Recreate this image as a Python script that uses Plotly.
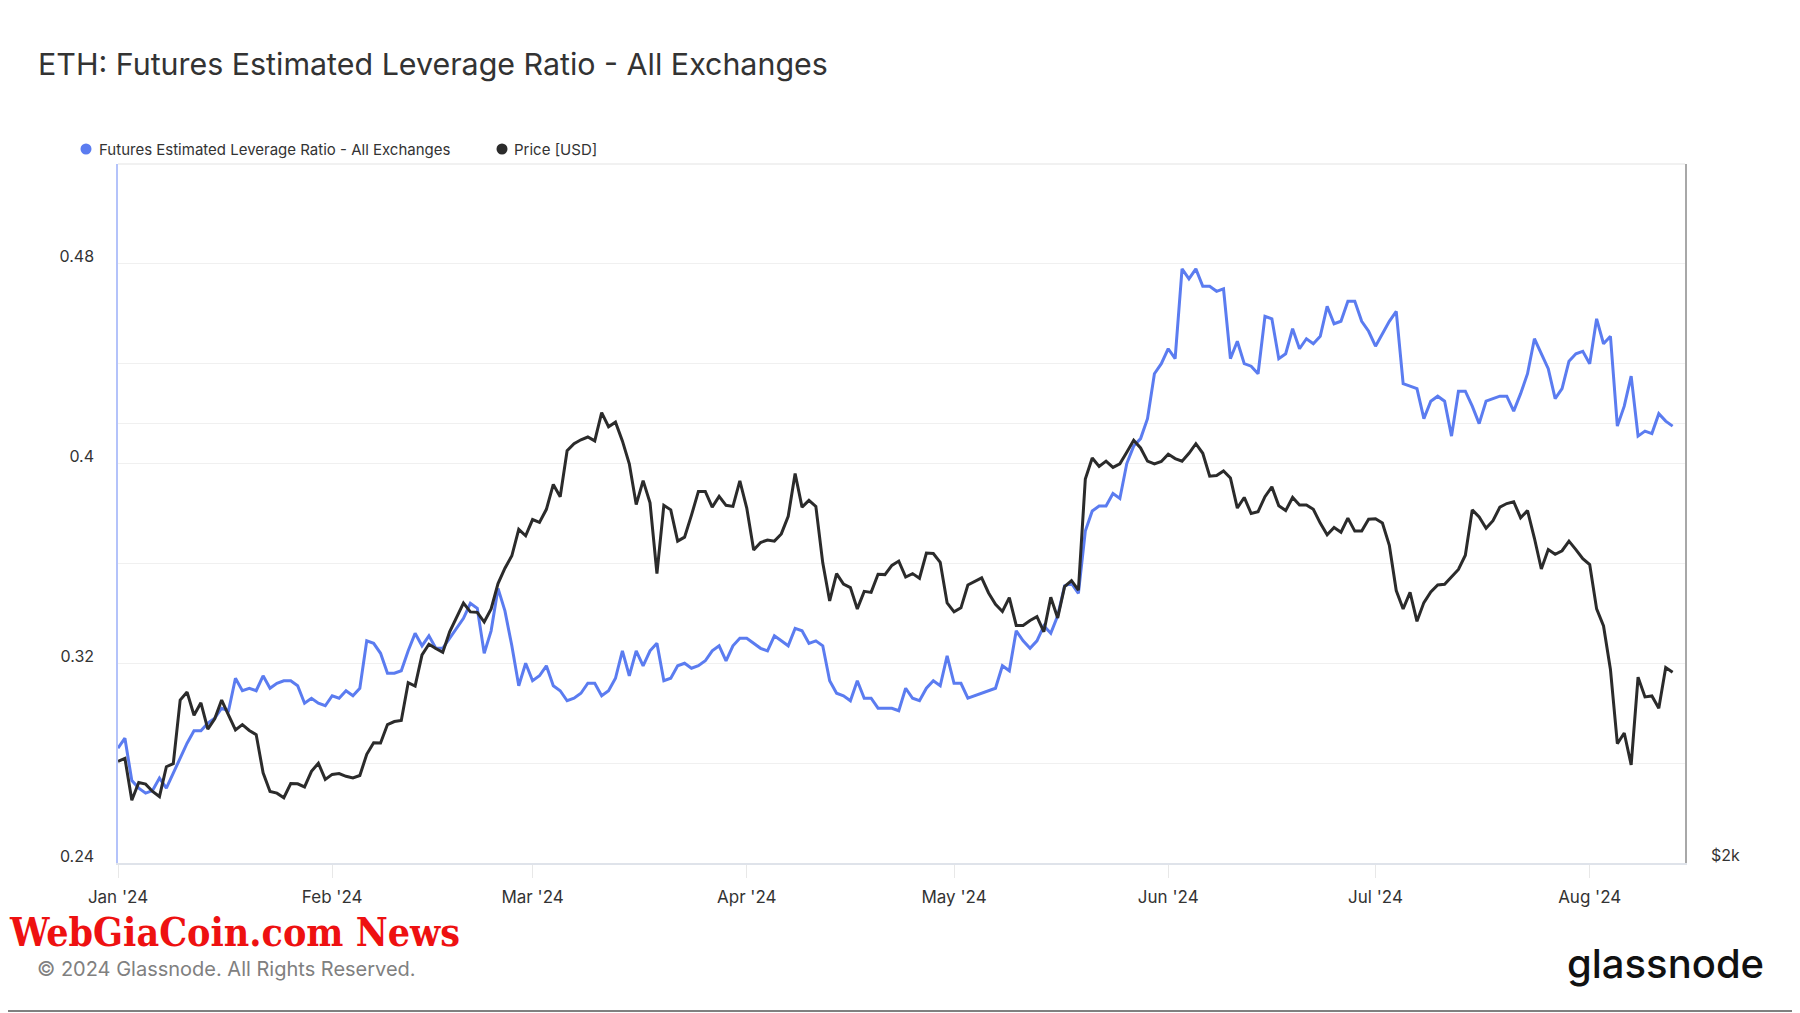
import math

import pandas as pd
import plotly.graph_objects as go

# --- data: one value per day, 2024-01-01 .. 2024-08-13 ---
START_DATE = "2024-01-01"

leverage_ratio = [
    0.286, 0.290, 0.273, 0.270, 0.268, 0.269, 0.274, 0.270, 0.276, 0.282,
    0.288, 0.293, 0.293, 0.296, 0.298, 0.302, 0.301, 0.314, 0.309, 0.310,
    0.309, 0.315, 0.310, 0.312, 0.313, 0.313, 0.311, 0.304, 0.306, 0.304,
    0.303, 0.307, 0.306, 0.309, 0.307, 0.310, 0.329, 0.328, 0.324, 0.316,
    0.316, 0.317, 0.325, 0.332, 0.327, 0.331, 0.326, 0.326, 0.330, 0.334,
    0.338, 0.344, 0.342, 0.324, 0.333, 0.350, 0.341, 0.327, 0.311, 0.320,
    0.313, 0.315, 0.319, 0.311, 0.309, 0.305, 0.306, 0.308, 0.312, 0.312,
    0.307, 0.309, 0.314, 0.325, 0.315, 0.325, 0.319, 0.325, 0.328, 0.313,
    0.314, 0.319, 0.320, 0.318, 0.319, 0.321, 0.325, 0.327, 0.321, 0.327,
    0.330, 0.330, 0.328, 0.326, 0.325, 0.331, 0.329, 0.327, 0.334, 0.333,
    0.328, 0.329, 0.327, 0.313, 0.308, 0.307, 0.305, 0.313, 0.306, 0.306,
    0.302, 0.302, 0.302, 0.301, 0.310, 0.306, 0.305, 0.310, 0.313, 0.311,
    0.323, 0.312, 0.312, 0.306, 0.307, 0.308, 0.309, 0.310, 0.319, 0.317,
    0.333, 0.329, 0.326, 0.329, 0.335, 0.332, 0.339, 0.351, 0.352, 0.348,
    0.373, 0.381, 0.383, 0.383, 0.388, 0.386, 0.400, 0.407, 0.410, 0.418,
    0.436, 0.440, 0.446, 0.442, 0.478, 0.474, 0.478, 0.471, 0.471, 0.469,
    0.470, 0.442, 0.449, 0.440, 0.439, 0.436, 0.459, 0.458, 0.442, 0.444,
    0.454, 0.446, 0.450, 0.448, 0.451, 0.463, 0.456, 0.457, 0.465, 0.465,
    0.457, 0.453, 0.447, 0.452, 0.457, 0.461, 0.432, 0.431, 0.430, 0.418,
    0.425, 0.427, 0.425, 0.411, 0.429, 0.429, 0.423, 0.416, 0.425, 0.426,
    0.427, 0.427, 0.421, 0.428, 0.436, 0.450, 0.444, 0.438, 0.426, 0.430,
    0.441, 0.444, 0.445, 0.440, 0.458, 0.448, 0.451, 0.415, 0.423, 0.435,
    0.411, 0.413, 0.412, 0.420, 0.417, 0.415,
]

price_usd = [
    2348, 2359, 2208, 2271, 2265, 2239, 2221, 2328, 2339, 2586,
    2619, 2525, 2575, 2470, 2511, 2586, 2525, 2467, 2488, 2465,
    2449, 2306, 2239, 2233, 2217, 2267, 2266, 2255, 2311, 2341,
    2282, 2300, 2303, 2293, 2287, 2296, 2374, 2418, 2417, 2488,
    2500, 2504, 2658, 2644, 2777, 2824, 2805, 2788, 2880, 2944,
    3014, 2972, 2970, 2925, 2986, 3108, 3184, 3247, 3385, 3351,
    3438, 3423, 3494, 3634, 3564, 3832, 3875, 3899, 3916, 3892,
    4070, 3980, 4009, 3892, 3754, 3520, 3656, 3530, 3157, 3516,
    3491, 3323, 3344, 3462, 3594, 3594, 3506, 3566, 3516, 3510,
    3654, 3501, 3277, 3316, 3329, 3323, 3361, 3456, 3697, 3506,
    3544, 3510, 3211, 3024, 3157, 3105, 3088, 2986, 3070, 3065,
    3154, 3152, 3198, 3220, 3140, 3157, 3134, 3261, 3259, 3214,
    3014, 2972, 2991, 3101, 3117, 3136, 3062, 3008, 2974, 3040,
    2909, 2909, 2932, 2950, 2880, 3041, 2944, 3093, 3122, 3076,
    3665, 3789, 3739, 3770, 3733, 3754, 3823, 3896, 3849, 3770,
    3754, 3768, 3812, 3785, 3770, 3817, 3875, 3817, 3681, 3685,
    3712, 3671, 3501, 3560, 3471, 3481, 3564, 3620, 3514, 3487,
    3560, 3518, 3518, 3494, 3419, 3357, 3395, 3370, 3446, 3376,
    3376, 3440, 3442, 3419, 3301, 3074, 2986, 3065, 2928, 3016,
    3067, 3101, 3104, 3139, 3178, 3250, 3491, 3452, 3391, 3432,
    3506, 3526, 3536, 3448, 3487, 3338, 3180, 3279, 3255, 3273,
    3323, 3279, 3232, 3202, 2986, 2907, 2714, 2414, 2455, 2335,
    2681, 2599, 2603, 2553, 2722, 2702,
]

ratio_ticks = [0.24, 0.28, 0.32, 0.36, 0.40, 0.44, 0.48]
ratio_tick_text = ["0.24", "", "0.32", "", "0.4", "", "0.48"]
price_ticks = [2000, 4000]
price_tick_text = ["$2k", ""]

dates = pd.date_range(START_DATE, periods=len(leverage_ratio), freq="D")

# --- page geometry (the page body adds an 8px offset, so positions are in page px minus 8) ---
W, H = 1800, 1013
OFF = 8
M = dict(l=118 - OFF, r=W - (1685 - OFF), t=164 - OFF, b=H - (863 - OFF))
PW = W - M["l"] - M["r"]
PH = H - M["t"] - M["b"]


def px_x(x):
    return (x - OFF - M["l"]) / PW


def px_y(y):
    return (H - M["b"] - (y - OFF)) / PH


BLUE = "#5b7cf0"
DARK = "#2b2b2b"
TEXT = "#333333"
GRID = "#f0f0f0"
FONT = "Inter, 'Noto Sans', sans-serif"

fig = go.Figure()

fig.add_trace(go.Scatter(
    x=dates, y=price_usd,
    mode="lines",
    name="Price [USD]",
    line=dict(color=DARK, width=3),
    yaxis="y2",
    showlegend=False,
))
fig.add_trace(go.Scatter(
    x=dates, y=leverage_ratio,
    mode="lines",
    name="Futures Estimated Leverage Ratio - All Exchanges",
    line=dict(color=BLUE, width=3),
    yaxis="y",
    showlegend=False,
))

# legend drawn by hand: dot + label
legend_items = [
    ("Futures Estimated Leverage Ratio - All Exchanges", BLUE, 86, 97),
    ("Price [USD]", DARK, 502, 512),
]
shapes = []
annotations = []
for label, color, dot_x, text_x in legend_items:
    shapes.append(dict(
        type="circle", xref="paper", yref="paper",
        xsizemode="pixel", ysizemode="pixel",
        xanchor=px_x(dot_x), yanchor=px_y(149),
        x0=-5.5, x1=5.5, y0=-5.5, y1=5.5,
        fillcolor=color, line=dict(width=0),
    ))
    annotations.append(dict(
        text=label, xref="paper", yref="paper",
        x=px_x(text_x), y=px_y(149), xanchor="left", yanchor="middle",
        showarrow=False, font=dict(family=FONT, size=15, color=TEXT),
    ))

# plot-area top border and page bottom rule
shapes.append(dict(type="line", xref="paper", yref="paper", x0=0, x1=1, y0=1, y1=1,
                   line=dict(color="#ececec", width=1.5)))
shapes.append(dict(type="line", xref="paper", yref="paper",
                   x0=px_x(0), x1=px_x(W), y0=px_y(1011), y1=px_y(1011),
                   line=dict(color="#808080", width=2)))

annotations += [
    dict(text="WebGiaCoin.com News", xref="paper", yref="paper",
         x=px_x(8), y=px_y(932), xanchor="left", yanchor="middle", showarrow=False,
         borderpad=0,
         font=dict(family="'DejaVu Serif Condensed', 'DejaVu Serif', serif", size=39,
                   color="#ee1111", weight="bold")),
    dict(text="© 2024 Glassnode. All Rights Reserved.", xref="paper", yref="paper",
         x=px_x(35), y=px_y(969), xanchor="left", yanchor="middle", showarrow=False,
         font=dict(family=FONT, size=20, color="#808080")),
    dict(text="glassnode", xref="paper", yref="paper",
         x=px_x(1766), y=px_y(964), xanchor="right", yanchor="middle", showarrow=False,
         font=dict(family=FONT, size=40, color="#111111", weight=500)),
]

fig.update_layout(
    width=W, height=H,
    margin=M,
    paper_bgcolor="white",
    plot_bgcolor="white",
    showlegend=False,
    title=dict(
        text="ETH: Futures Estimated Leverage Ratio - All Exchanges",
        xref="container", yref="container",
        x=(38 - OFF) / W, y=1 - (64 - OFF) / H, xanchor="left", yanchor="middle",
        font=dict(family=FONT, size=30.4, color=TEXT),
    ),
    xaxis=dict(
        type="date",
        range=["2024-01-01", "2024-08-14 19:00"],
        dtick="M1", tick0=START_DATE, tickformat="%b '%y",
        showgrid=False, zeroline=False,
        showline=True, linecolor="#dfe3ea", linewidth=1.5,
        ticks="outside", ticklen=13, tickcolor="#e8e8e8", tickwidth=1,
        ticklabelstandoff=5,
        tickfont=dict(family=FONT, size=17, color=TEXT),
    ),
    yaxis=dict(
        range=[0.24, 0.52],
        tickvals=ratio_ticks, ticktext=ratio_tick_text,
        showgrid=True, gridcolor=GRID, gridwidth=1, zeroline=False,
        showline=True, linecolor="#b4c3fa", linewidth=1.5,
        ticks="", ticklabelstandoff=19, ticklabelshift=-7,
        tickfont=dict(family=FONT, size=16, color=TEXT),
    ),
    yaxis2=dict(
        overlaying="y", side="right", type="log",
        range=[math.log10(2000), math.log10(6024)],
        tickvals=price_ticks, ticktext=price_tick_text,
        showgrid=True, gridcolor=GRID, gridwidth=1, zeroline=False,
        showline=True, linecolor="#a8a8a8", linewidth=1.5,
        ticks="", ticklabelstandoff=21, ticklabelshift=-8,
        tickfont=dict(family=FONT, size=16, color=TEXT),
    ),
    shapes=shapes,
    annotations=annotations,
)

fig.write_html("out.html")
